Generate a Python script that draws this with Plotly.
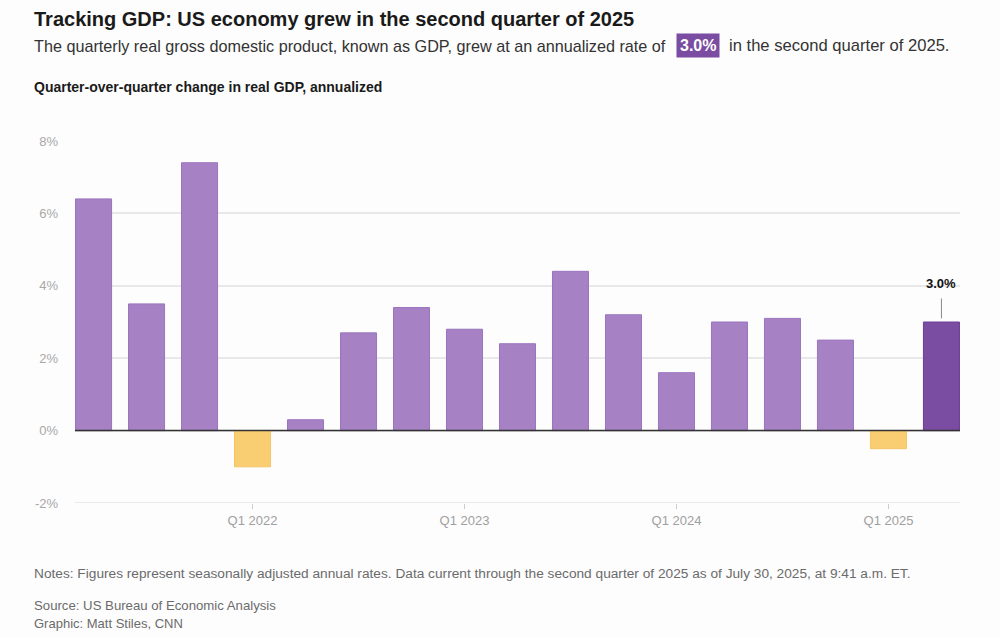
import plotly.graph_objects as go

quarters = ["Q2 2021", "Q3 2021", "Q4 2021", "Q1 2022", "Q2 2022", "Q3 2022", "Q4 2022",
            "Q1 2023", "Q2 2023", "Q3 2023", "Q4 2023", "Q1 2024", "Q2 2024", "Q3 2024",
            "Q4 2024", "Q1 2025", "Q2 2025"]
gdp = [6.4, 3.5, 7.4, -1.0, 0.3, 2.7, 3.4, 2.8, 2.4, 4.4, 3.2, 1.6, 3.0, 3.1, 2.5, -0.5, 3.0]
tick_vals = ["Q1 2022", "Q1 2023", "Q1 2024", "Q1 2025"]
y_ticks = [-2, 0, 2, 4, 6, 8]
y_labels = ["-2%", "0%", "2%", "4%", "6%", "8%"]

W, H = 1000, 637
ML, MR, MT, MB = 75, 40, 141, 134
PW, PH = W - ML - MR, H - MT - MB

def px(x):
    return (x - ML) / PW

def py(y):
    return (H - MB - y) / PH

PURPLE = "#a682c4"
PURPLE_LINE = "#9a74bf"
DARK = "#7a4ca2"
DARK_LINE = "#6c3f96"
YELLOW = "#f9cd72"
YELLOW_LINE = "#f5c466"

colors, lines = [], []
for i, v in enumerate(gdp):
    if i == len(gdp) - 1:
        colors.append(DARK); lines.append(DARK_LINE)
    elif v < 0:
        colors.append(YELLOW); lines.append(YELLOW_LINE)
    else:
        colors.append(PURPLE); lines.append(PURPLE_LINE)

FONT = "Liberation Sans, Arial, sans-serif"

fig = go.Figure()
fig.add_trace(go.Bar(
    x=quarters, y=gdp,
    marker=dict(color=colors, line=dict(color=lines, width=1)),
    width=0.68, hoverinfo="x+y",
))

fig.update_layout(
    width=W, height=H,
    margin=dict(l=ML, r=MR, t=MT, b=MB),
    paper_bgcolor="#fdfdfd", plot_bgcolor="#fdfdfd",
    showlegend=False,
    font=dict(family=FONT, color="#222"),
    xaxis=dict(
        type="category", range=[-0.35, len(quarters) - 0.65],
        tickmode="array", tickvals=tick_vals, ticktext=tick_vals,
        ticks="outside", ticklen=5, tickcolor="#cccccc",
        tickfont=dict(size=13, color="#a0a0a0", family=FONT),
        showgrid=False, showline=False, zeroline=False,
    ),
    yaxis=dict(
        range=[-2, 8], tickvals=y_ticks, ticktext=y_labels,
        tickfont=dict(size=13, color="#a8a8a8", family=FONT),
        showgrid=True, gridcolor="#e8e8e8", gridwidth=1.5,
        zeroline=False, showline=False, ticks="", ticklabelstandoff=16,
    ),
)

# bottom gridline at range edge
fig.add_shape(type="line", xref="paper", yref="y", x0=0, x1=1, y0=y_ticks[0], y1=y_ticks[0],
              line=dict(color="#e3e3e3", width=1.5), layer="below")
# zero line
fig.add_shape(type="line", xref="paper", yref="y", x0=0, x1=1, y0=0, y1=0,
              line=dict(color="#333333", width=1.5), layer="above")

# annotation for last value
last_i = len(gdp) - 1
fig.add_shape(type="line", xref="x", yref="y", x0=last_i, x1=last_i,
              y0=gdp[-1] + 0.1, y1=gdp[-1] + 0.65, line=dict(color="#888888", width=1))
fig.add_annotation(x=last_i, y=gdp[-1] + 1.05, xref="x", yref="y", text=f"<b>{gdp[-1]:.1f}%</b>",
                   showarrow=False, font=dict(size=13, color="#111", family=FONT))

# titles
fig.add_annotation(xref="paper", yref="paper", x=px(32), y=py(19), xanchor="left", yanchor="middle",
                   text="<b>Tracking GDP: US economy grew in the second quarter of 2025</b>",
                   showarrow=False, font=dict(size=20, color="#1a1a1a", family=FONT))
fig.add_annotation(xref="paper", yref="paper", x=px(32), y=py(46), xanchor="left", yanchor="middle",
                   text="The quarterly real gross domestic product, known as GDP, grew at an annualized rate of",
                   showarrow=False, font=dict(size=16.2, color="#333", family=FONT))
fig.add_annotation(xref="paper", yref="paper", x=px(698), y=py(46), xanchor="center", yanchor="middle",
                   text=f"<b>{gdp[-1]:.1f}%</b>", bgcolor=DARK, borderpad=3,
                   showarrow=False, font=dict(size=16, color="white", family=FONT))
fig.add_annotation(xref="paper", yref="paper", x=px(727), y=py(46), xanchor="left", yanchor="middle",
                   text="in the second quarter of 2025.",
                   showarrow=False, font=dict(size=16.6, color="#333", family=FONT))
fig.add_annotation(xref="paper", yref="paper", x=px(32), y=py(87), xanchor="left", yanchor="middle",
                   text="<b>Quarter-over-quarter change in real GDP, annualized</b>",
                   showarrow=False, font=dict(size=14, color="#1a1a1a", family=FONT))

# footer
NOTE = "#6b6b6b"
fig.add_annotation(xref="paper", yref="paper", x=px(32), y=py(573), xanchor="left", yanchor="middle",
                   text="Notes: Figures represent seasonally adjusted annual rates. Data current through the second quarter of 2025 as of July 30, 2025, at 9:41 a.m. ET.",
                   showarrow=False, font=dict(size=13.7, color=NOTE, family=FONT))
fig.add_annotation(xref="paper", yref="paper", x=px(32), y=py(605), xanchor="left", yanchor="middle",
                   text="Source: US Bureau of Economic Analysis",
                   showarrow=False, font=dict(size=13.2, color=NOTE, family=FONT))
fig.add_annotation(xref="paper", yref="paper", x=px(32), y=py(623), xanchor="left", yanchor="middle",
                   text="Graphic: Matt Stiles, CNN",
                   showarrow=False, font=dict(size=13.0, color=NOTE, family=FONT))

fig.write_html("out.html")
